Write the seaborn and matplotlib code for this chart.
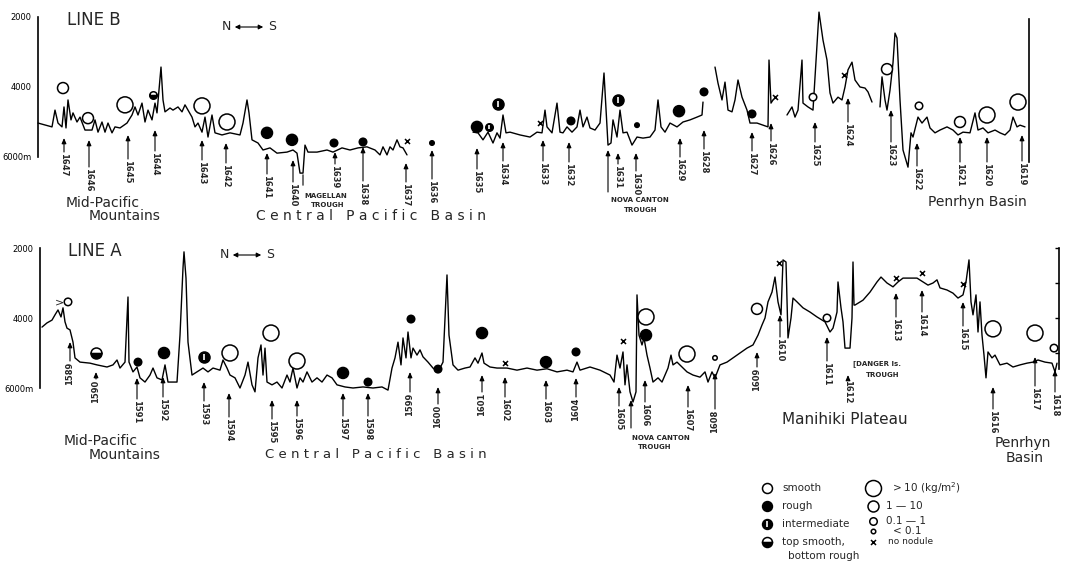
import matplotlib.pyplot as plt
import matplotlib.transforms as mtransforms
from matplotlib.lines import TICKLEFT
from matplotlib.patches import FancyArrowPatch
import pandas as pd
import seaborn as sns

# ---- Line B (upper) echo-sounding record: (distance along track, depth m), split at record gaps
b_seg1 = [(38, 5030), (52, 5140), (55, 4660), (58, 5030), (62, 5140), (64, 4570), (66, 5170), (68, 4370),
          (71, 4940), (73, 4740), (77, 5000), (80, 4860), (85, 5230), (92, 5230), (95, 4940), (98, 5290),
          (102, 5000), (105, 5290), (108, 5030), (112, 5310), (115, 5140), (120, 5170), (127, 5030),
          (132, 4800), (135, 4570), (138, 4800), (142, 4460), (145, 5000), (148, 4660), (152, 4940),
          (155, 4460), (157, 4740), (161, 3430), (163, 4370), (165, 4710), (170, 4600), (173, 4660),
          (178, 4570), (182, 4710), (185, 4510), (188, 4660), (192, 4860), (195, 5140), (198, 5030),
          (202, 5290), (205, 4860), (208, 5430), (212, 4800), (215, 5310), (222, 5370), (230, 5310),
          (240, 5370), (243, 5030), (247, 4370), (249, 4740), (252, 5510), (258, 5600), (263, 5800),
          (270, 5740), (277, 5890), (287, 5860), (293, 5800), (297, 5890), (300, 6460), (303, 6460),
          (305, 5660), (308, 5860), (317, 5860), (327, 5800), (333, 5860), (342, 5740), (350, 5800),
          (358, 5740), (367, 5710), (375, 5800), (380, 5940), (383, 5710), (387, 5940), (390, 5710),
          (393, 5800), (397, 5510), (400, 5710), (403, 5740), (407, 5940)]
b_seg2 = [(473, 5290), (478, 5310), (483, 5510), (488, 5290), (493, 5600), (497, 5310), (500, 5460),
          (503, 4800), (506, 5310), (510, 5290), (520, 5370), (530, 5430), (537, 5290), (542, 5310),
          (545, 4660), (547, 5140), (552, 5310), (557, 4460), (560, 5290), (563, 5310), (567, 5140),
          (572, 5290), (577, 5140), (580, 4660), (583, 5140), (587, 4860), (590, 5170), (595, 5230),
          (600, 5030), (604, 3600), (607, 5140), (608, 5660), (611, 5600), (613, 4940), (617, 5430),
          (620, 4660), (623, 5310), (627, 5290), (632, 5660), (637, 5430), (643, 5460), (650, 5430),
          (655, 5230), (658, 4370), (661, 5140), (665, 5290), (670, 5030), (677, 5140), (683, 5000),
          (690, 4940), (697, 4860), (702, 4800), (703, 4430)]
b_seg3 = [(715, 3430), (718, 3890), (722, 4370), (725, 3860), (728, 4660), (732, 4710), (735, 4370),
          (738, 3800), (742, 4290), (747, 4660), (750, 5030), (757, 5030), (763, 5090), (768, 5140),
          (769, 3230), (771, 4460), (773, 4370)]
b_seg4 = [(787, 4800), (792, 4570), (795, 4860), (798, 4660), (802, 3230), (803, 4460), (808, 4570),
          (813, 4660), (819, 1860), (823, 2660), (827, 3230), (830, 4170), (833, 4460), (838, 4290),
          (842, 4370), (845, 4000), (848, 3510), (852, 3290), (855, 3800), (860, 4000), (865, 4030),
          (868, 4140), (872, 4430)]
b_seg5 = [(880, 4570), (882, 3710), (885, 4370), (887, 4660), (890, 4090), (893, 3310), (895, 2460),
          (897, 2600), (900, 4370), (903, 5800), (908, 6290), (911, 5310), (913, 5430), (918, 4860),
          (922, 5030), (927, 4860), (930, 5170), (935, 5310), (940, 5230), (947, 5140), (953, 5230),
          (958, 5370), (963, 5290), (970, 5310), (975, 4740), (978, 5230), (983, 5170), (988, 5310),
          (995, 5230), (1000, 5310), (1005, 5370), (1010, 5230), (1013, 4860), (1017, 5140),
          (1020, 5090), (1025, 5140)]

# ---- Line A (lower) record
a_prof = [(42, 4260), (47, 4140), (52, 4060), (55, 3910), (58, 3770), (61, 3970), (63, 3710), (65, 4110),
          (67, 4290), (70, 4340), (73, 4690), (75, 5140), (80, 5260), (90, 5290), (97, 5340), (107, 5400),
          (113, 5340), (117, 5200), (120, 5430), (125, 5260), (128, 3400), (129, 5260), (133, 5540),
          (137, 5400), (140, 5710), (145, 5830), (150, 5630), (153, 5430), (157, 5710), (162, 5770),
          (165, 5340), (168, 5830), (177, 5830), (180, 4490), (183, 2570), (184, 2110), (186, 2860),
          (188, 4690), (192, 5630), (197, 5540), (203, 5430), (208, 5540), (213, 5430), (220, 5490),
          (223, 5200), (227, 5430), (230, 5630), (235, 5710), (240, 6000), (245, 5630), (248, 5260),
          (252, 5910), (255, 6110), (258, 5140), (261, 4770), (263, 5630), (265, 4860), (267, 5830),
          (272, 5910), (277, 5830), (282, 6000), (287, 5630), (290, 5830), (293, 5430), (297, 6000),
          (300, 5710), (303, 5830), (307, 5540), (312, 5830), (317, 5710), (322, 5830), (327, 5630),
          (332, 5710), (337, 5910), (345, 5970), (353, 6000), (363, 5970), (373, 6000), (382, 5970),
          (388, 6060), (392, 5430), (395, 5140), (398, 4690), (401, 5340), (403, 4570), (406, 5140),
          (408, 4400), (411, 5140), (413, 4860), (417, 5060), (420, 4910), (423, 5110), (428, 5260),
          (433, 5430), (438, 5540), (443, 5260), (447, 2770), (449, 4490), (453, 5340), (458, 5490),
          (465, 5430), (470, 5400), (475, 5140), (478, 5290), (482, 5000), (484, 5290), (490, 5400),
          (497, 5430), (507, 5430), (517, 5490), (527, 5430), (537, 5490), (547, 5450), (557, 5540),
          (567, 5490), (573, 5540), (577, 5260), (580, 5490), (590, 5400), (600, 5490), (610, 5630),
          (614, 5830), (617, 5060), (620, 5430), (623, 4970), (625, 5910), (627, 5340), (630, 6110),
          (633, 6400), (636, 6110), (637, 3340), (639, 4490), (642, 4770), (644, 4570), (647, 5060),
          (650, 5430), (653, 5830), (658, 5710), (662, 5830), (665, 5630), (668, 5430), (671, 5060),
          (673, 5340), (677, 5260), (682, 5400), (687, 5540), (693, 5630), (700, 5690), (705, 5540),
          (708, 5830), (712, 5540), (715, 5710), (720, 5340), (727, 5260), (733, 5140), (740, 5000),
          (747, 4860), (753, 4770), (758, 4490), (762, 4200), (765, 4000), (768, 3540), (772, 3260),
          (775, 2830), (778, 3540), (781, 3910), (783, 2340), (786, 2400), (788, 4570), (791, 4000),
          (793, 3430), (797, 3540), (803, 3710), (810, 3830), (817, 3970), (825, 4110), (830, 4400),
          (833, 4290), (837, 3830), (838, 2970), (841, 3710), (843, 4110), (845, 4860), (850, 4860),
          (852, 4000), (853, 2400), (854, 3630), (855, 3630), (863, 3490), (870, 3260), (877, 2970),
          (881, 2830), (887, 3000), (893, 3110), (898, 2970), (903, 2860), (910, 2860), (917, 2860),
          (923, 2970), (928, 3060), (933, 3000), (937, 2910), (940, 3140), (947, 3200), (953, 3290),
          (958, 3430), (963, 3340), (966, 2970), (969, 2340), (971, 3540), (973, 3910), (976, 3340),
          (978, 4400), (980, 3540), (982, 4490), (984, 5060), (986, 5710), (988, 4970), (992, 5140),
          (995, 5060), (1000, 5340), (1007, 5290), (1013, 5400), (1020, 5340), (1027, 5290),
          (1033, 5260), (1038, 5200), (1045, 5260), (1052, 5290), (1055, 5540), (1057, 5290)]

# ---- nodule observations: position, depth of symbol, surface type, abundance class (kg/m2)
b_nod_dist = [63, 88, 125, 153, 202, 227, 267, 292, 334, 363, 407, 432, 477, 489, 498,
              540, 571, 618, 637, 679, 704, 752, 775, 813, 844, 887, 919, 960, 987, 1018]
b_nod_depth = [4030, 4890, 4510, 4230, 4540, 5000, 5310, 5510, 5600, 5570, 5540, 5600, 5140, 5140, 4490,
               5030, 4970, 4370, 5090, 4690, 4140, 4770, 4290, 4290, 3660, 3490, 4540, 5000, 4800, 4430]
b_nod_type = ['smooth', 'smooth', 'smooth', 'half', 'smooth', 'smooth', 'rough', 'rough', 'rough', 'rough',
              'none', 'rough', 'rough', 'inter', 'inter', 'none', 'rough', 'inter', 'rough', 'rough',
              'rough', 'rough', 'none', 'smooth', 'none', 'smooth', 'smooth', 'smooth', 'smooth', 'smooth']
b_nod_cls = ['1-10', '1-10', '>10', '0.1-1', '>10', '>10', '1-10', '1-10', '0.1-1', '0.1-1',
             'none', '<0.1', '1-10', '0.1-1', '1-10', 'none', '0.1-1', '1-10', '<0.1', '1-10',
             '0.1-1', '0.1-1', 'none', '0.1-1', 'none', '1-10', '0.1-1', '1-10', '>10', '>10']

a_nod_dist = [68, 96, 138, 164, 204, 230, 271, 297, 343, 368, 411, 438, 482, 505, 546,
              576, 623, 646, 646, 687, 715, 757, 779, 827, 896, 922, 963, 993, 1035, 1054]
a_nod_depth = [3540, 5000, 5260, 5000, 5110, 5000, 4430, 5230, 5570, 5830, 4030, 5460, 4430, 5290, 5260,
               4970, 4660, 3970, 4490, 5030, 5140, 3740, 2430, 4000, 2860, 2710, 3030, 4310, 4430, 4860]
a_nod_type = ['smooth', 'half', 'rough', 'rough', 'inter', 'smooth', 'smooth', 'smooth', 'rough', 'rough',
              'rough', 'rough', 'rough', 'none', 'rough', 'rough', 'none', 'smooth', 'rough', 'smooth',
              'smooth', 'smooth', 'none', 'smooth', 'none', 'none', 'none', 'smooth', 'smooth', 'smooth']
a_nod_cls = ['0.1-1', '1-10', '0.1-1', '1-10', '1-10', '>10', '>10', '>10', '1-10', '0.1-1',
             '0.1-1', '0.1-1', '1-10', 'none', '1-10', '0.1-1', 'none', '>10', '1-10', '>10',
             '<0.1', '1-10', 'none', '0.1-1', 'none', 'none', 'none', '>10', '>10', '0.1-1']

# ---- stations
b_st_id = [1647, 1646, 1645, 1644, 1643, 1642, 1641, 1640, 1639, 1638, 1637, 1636, 1635, 1634, 1633,
           1632, 1631, 1630, 1629, 1628, 1627, 1626, 1625, 1624, 1623, 1622, 1621, 1620, 1619]
b_st_dist = [64, 89, 128, 155, 202, 226, 267, 293, 335, 363, 406, 432, 477, 503, 543,
             569, 618, 636, 680, 704, 752, 771, 815, 848, 891, 917, 960, 987, 1022]
a_st_id = list(range(1589, 1619))
a_st_dist = [70, 96, 137, 163, 204, 229, 272, 297, 343, 368, 410, 438, 482, 505, 546,
             576, 619, 645, 688, 715, 757, 780, 827, 848, 896, 922, 963, 993, 1035, 1055]

# layout: image rows of arrow tip / label top for each station
b_tip = [138, 140, 135, 130, 140, 143, 153, 160, 152, 147, 163, 150, 148, 142, 140,
         142, 153, 153, 138, 130, 132, 123, 122, 98, 110, 143, 137, 137, 135]
b_lab = [153, 168, 160, 152, 161, 164, 175, 183, 165, 182, 183, 180, 170, 162, 162,
         163, 165, 172, 158, 150, 152, 142, 143, 123, 143, 167, 163, 163, 162]
a_tip = [342, 372, 378, 377, 382, 393, 400, 400, 393, 393, 372, 387, 375, 377, 380,
         378, 387, 380, 385, 373, 352, 315, 337, 375, 293, 290, 302, 387, 357, 370]
a_lab = [362, 380, 400, 398, 402, 418, 420, 417, 417, 417, 393, 405, 393, 398, 400,
         398, 407, 403, 408, 410, 368, 338, 362, 380, 318, 313, 327, 410, 387, 393]
a_up = {1589, 1590, 1599, 1600, 1601, 1604, 1608, 1609}

W, H = 1065, 569
SYM_PX = {'>10': 16, '1-10': 11, '0.1-1': 7.5, '<0.1': 4.5}


def pt(px):
    return px * 72 / 100


sns.set_style('white')
plt.rcParams['font.family'] = ['DejaVu Sans']

fig = plt.figure(figsize=(W / 100, H / 100), dpi=100)
PX = mtransforms.Affine2D().scale(1 / W, -1 / H).translate(0, 1) + fig.transFigure

# depth axes: 35 px per 1000 m, 2000 m at row 17 (top) / row 248 (bottom)
ax_b = fig.add_axes([0, 1 - 235 / H, 1, 235 / H])
ax_b.set_ylim(2000 + (235 - 17) * 1000 / 35, 2000 - 17 * 1000 / 35)
ax_a = fig.add_axes([0, 0, 1, 334 / H])
ax_a.set_ylim(2000 + (569 - 248) * 1000 / 35, 2000 - (248 - 235) * 1000 / 35)


def frame(ax, xaxis):
    ax.set_xlim(0, W)
    ax.patch.set_alpha(0)
    for s in ['top', 'bottom']:
        ax.spines[s].set_visible(False)
    ax.spines['left'].set_position(('data', xaxis))
    ax.spines['left'].set_bounds(2000, 6000)
    for s in ['left', 'right']:
        ax.spines[s].set_linewidth(1.2)
        ax.spines[s].set_color('black')
    ax.set_xticks([])
    ax.set_yticks([2000, 3000, 4000, 5000, 6000], ['2000', '', '4000', '', '6000m'])
    ax.tick_params(axis='y', direction='out', length=3, width=1, labelsize=6, pad=1.5, colors='black')
    for t in ax.get_yticklabels():
        t.set_fontweight('bold')
    ax.xaxis.label.set_visible(False)
    ax.yaxis.label.set_visible(False)


def profile(ax, segs):
    rows = []
    for i, seg in enumerate(segs):
        rows += [{'dist': d, 'depth': z, 'seg': i} for d, z in seg]
    df = pd.DataFrame(rows)
    sns.lineplot(data=df, x='dist', y='depth', units='seg', estimator=None, sort=False,
                 color='black', linewidth=1.0, ax=ax)


def nodules(ax, dist, depth, kind, cls):
    df = pd.DataFrame({'dist': dist, 'depth': depth, 'kind': kind, 'cls': cls})
    sizes = {k: pt(v) ** 2 for k, v in SYM_PX.items()}
    for kind_name, face in [('smooth', 'white'), ('rough', 'black')]:
        sub = df[df.kind == kind_name]
        sns.scatterplot(data=sub, x='dist', y='depth', size='cls', sizes=sizes, color=face,
                        edgecolor='black', linewidth=1.1, legend=False, zorder=5, ax=ax)
    sub = df[df.kind == 'none']
    sns.scatterplot(data=sub, x='dist', y='depth', marker='x', s=pt(5) ** 2, color='black',
                    linewidth=1.1, legend=False, zorder=5, ax=ax)
    for r in df[df.kind == 'half'].itertuples():
        ax.plot(r.dist, r.depth, marker='o', ms=pt(SYM_PX[r.cls]), fillstyle='bottom',
                markerfacecolor='black', markerfacecoloralt='white', markeredgecolor='black',
                mew=1.1, zorder=5)
    for r in df[df.kind == 'inter'].itertuples():
        ax.plot(r.dist, r.depth, marker='o', ms=pt(SYM_PX[r.cls]), color='black', mew=1.1, zorder=5)
        ax.plot(r.dist, r.depth, marker='|', ms=pt(SYM_PX[r.cls]) * 0.55, color='white', mew=1.2,
                zorder=6)


ARROW = dict(arrowstyle='-|>,head_length=0.35,head_width=0.15', mutation_scale=9, lw=0.8,
             color='black', shrinkA=0, shrinkB=0)


def stations(ax, ids, dist, tip, lab, up=()):
    for sid, x, t, l in zip(ids, dist, tip, lab):
        ax.annotate('', xy=(x, t), xytext=(x, l - 1), xycoords=PX, textcoords=PX, arrowprops=ARROW)
        ax.text(x, l, str(sid), transform=PX, rotation=90 if sid in up else -90,
                ha='center', va='top', fontsize=6, fontweight='bold')


profile(ax_b, [b_seg1, b_seg2, b_seg3, b_seg4, b_seg5])
profile(ax_a, [a_prof])
frame(ax_b, 38)
frame(ax_a, 40)
ax_b.spines['right'].set_position(('data', 1029))
ax_b.spines['right'].set_bounds(2050, 6150)
ax_a.spines['right'].set_position(('data', 1059))
ax_a.spines['right'].set_bounds(2000, 5450)
ax_a.tick_params(axis='y', right=True, labelright=False)
right_ticks = ax_a.yaxis.get_ticklines()[1::2]
for tl in right_ticks:
    tl.set_marker(TICKLEFT)  # right-hand ticks point inward
right_ticks[-1].set_visible(False)

nodules(ax_b, b_nod_dist, b_nod_depth, b_nod_type, b_nod_cls)
nodules(ax_a, a_nod_dist, a_nod_depth, a_nod_type, a_nod_cls)
stations(ax_b, b_st_id, b_st_dist, b_tip, b_lab)
stations(ax_a, a_st_id, a_st_dist, a_tip, a_lab, a_up)


def label(x, y, s, size=10, **kw):
    fig.text(x, y, s, transform=PX, ha=kw.pop('ha', 'center'), va='center', fontsize=size, **kw)


def ns(x, y):
    label(x, y, 'N', 9)
    label(x + 46, y, 'S', 9)
    fig.add_artist(FancyArrowPatch((x + 6, y), (x + 40, y), transform=PX,
                                   arrowstyle='<|-|>,head_length=0.3,head_width=0.15',
                                   mutation_scale=9, lw=0.8, color='black'))


# Line B annotations
label(67, 20, 'LINE B', 12, ha='left')
ns(226, 27)
label(103, 203, 'Mid-Pacific')
label(125, 216, 'Mountains')
label(371, 216, 'C e n t r a l   P a c i f i c   B a s i n')
label(326, 196, 'MAGELLAN', 5, fontweight='bold')
label(328, 205, 'TROUGH', 5, fontweight='bold')
ax_b.annotate('', xy=(303, 172), xytext=(303, 188), xycoords=PX, textcoords=PX,
              arrowprops=dict(arrowstyle='-', lw=0.8, color='black'))
label(640, 200, 'NOVA CANTON', 5, fontweight='bold')
label(641, 210, 'TROUGH', 5, fontweight='bold')
ax_b.annotate('', xy=(608, 150), xytext=(608, 192), xycoords=PX, textcoords=PX, arrowprops=ARROW)
label(977, 202, 'Penrhyn Basin')

# Line A annotations
label(68, 251, 'LINE A', 12, ha='left')
ns(224, 255)
label(60, 302, '>', 8)
label(101, 441, 'Mid-Pacific')
label(125, 455, 'Mountains')
label(376, 455, 'C e n t r a l   P a c i f i c   B a s i n', 9.5)
label(661, 438, 'NOVA CANTON', 5, fontweight='bold')
label(655, 447, 'TROUGH', 5, fontweight='bold')
ax_a.annotate('', xy=(631, 400), xytext=(631, 428), xycoords=PX, textcoords=PX, arrowprops=ARROW)
label(853, 364, '[DANGER Is.', 5, fontweight='bold', ha='left')
label(866, 375, 'TROUGH', 5, fontweight='bold', ha='left')
label(845, 420, 'Manihiki Plateau', 11)
label(1023, 443, 'Penrhyn')
label(1025, 458, 'Basin')

# legend
leg_types = [('smooth', 488), ('rough', 506), ('inter', 524), ('half', 542)]
leg_text = ['smooth', 'rough', 'intermediate', 'top smooth,']
for (kind, y), txt in zip(leg_types, leg_text):
    ms = pt(10)
    if kind == 'smooth':
        ax_a.plot(767, y, 'o', ms=ms, mfc='white', mec='black', mew=1.1, transform=PX, clip_on=False)
    elif kind == 'rough':
        ax_a.plot(767, y, 'o', ms=ms, color='black', transform=PX, clip_on=False)
    elif kind == 'inter':
        ax_a.plot(767, y, 'o', ms=ms, color='black', transform=PX, clip_on=False)
        ax_a.plot(767, y, '|', ms=ms * 0.55, color='white', mew=1.2, transform=PX, clip_on=False)
    else:
        ax_a.plot(767, y, 'o', ms=ms, fillstyle='bottom', mfc='black', markerfacecoloralt='white',
                  mec='black', mew=1.1, transform=PX, clip_on=False)
    label(782, y, txt, 7.5, ha='left')
label(788, 556, 'bottom rough', 7.5, ha='left')

leg_cls = [('>10', 488, '> 10 (kg/m$^2$)', 892), ('1-10', 506, '1 — 10', 886),
           ('0.1-1', 521, '0.1 — 1', 886), ('<0.1', 531, '< 0.1', 893)]
for cls, y, txt, tx in leg_cls:
    ax_a.plot(873, y, 'o', ms=pt(SYM_PX[cls]), mfc='white', mec='black', mew=1.1,
              transform=PX, clip_on=False)
    label(tx, y, txt, 7.5, ha='left')
ax_a.plot(873, 542, 'x', ms=pt(5), color='black', mew=1.1, transform=PX, clip_on=False)
label(888, 542, 'no nodule', 6.5, ha='left')

fig.savefig('out.png', dpi=100)
